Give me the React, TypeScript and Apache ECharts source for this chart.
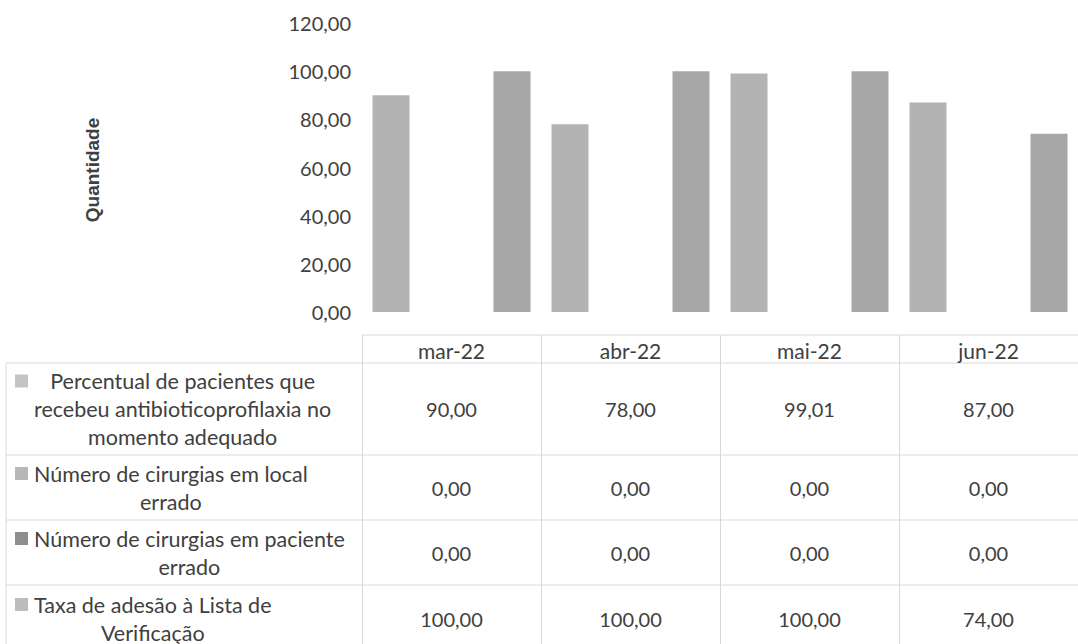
import React, { useEffect, useRef } from "react";
import * as echarts from "echarts";

const categories = ["mar-22", "abr-22", "mai-22", "jun-22"];
const seriesNames = [
  "Percentual de pacientes que\nrecebeu antibioticoprofilaxia no\nmomento adequado",
  "Número de cirurgias em local\nerrado",
  "Número de cirurgias em paciente\nerrado",
  "Taxa de adesão à Lista de\nVerificação",
];
const antibioticoprofilaxia = [90, 78, 99.01, 87];
const localErrado = [0, 0, 0, 0];
const pacienteErrado = [0, 0, 0, 0];
const listaVerificacao = [100, 100, 100, 74];
const seriesValues = [antibioticoprofilaxia, localErrado, pacienteErrado, listaVerificacao];
const seriesColors = ["#b3b3b3", "#ababab", "#8f8f8f", "#a7a7a7"];
const keyColors = ["#c4c4c4", "#b8b8b8", "#8e8e8e", "#bcbcbc"];
const yMin = 0;
const yMax = 120;
const yStep = 20;
const axisTitle = "Quantidade";

const FONT = "Lato";
const TEXT = "#404040";
const LINE = "#d8d8d8";
const LABEL_SIZE = 21.5;
const HEADER_SIZE = 21;
const VALUE_SIZE = 20;

const fmt = (v: number) => v.toFixed(2).replace(".", ",");

export default function App() {
  const ref = useRef<HTMLDivElement>(null);
  useEffect(() => {
    if (!ref.current) return;
    const chart = echarts.init(ref.current, null, { renderer: "svg" });
    chart.setOption({
      animation: false,
      backgroundColor: "#ffffff",
      grid: { left: 362, right: -12, top: 23, bottom: 332, containLabel: false },
      xAxis: {
        type: "category",
        data: categories,
        axisLine: { show: false },
        axisTick: { show: false },
        axisLabel: { show: false },
        splitLine: { show: false },
      },
      yAxis: {
        type: "value",
        min: yMin,
        max: yMax,
        interval: yStep,
        axisLine: { show: false },
        axisTick: { show: false },
        splitLine: { show: false },
        axisLabel: {
          margin: 11,
          formatter: (v: number) => fmt(v),
          fontFamily: FONT,
          fontSize: VALUE_SIZE,
          color: TEXT,
        },
      },
      series: seriesValues.map((vals, i) => ({
        type: "bar",
        name: seriesNames[i],
        data: vals,
        barWidth: 37,
        barGap: "9%",
        itemStyle: { color: seriesColors[i] },
      })),
    });

    const centers = categories.map((c) => chart.convertToPixel({ xAxisIndex: 0 }, c) as number);
    const band = centers[1] - centers[0];
    const ctx = document.createElement("canvas").getContext("2d")!;
    ctx.font = `${LABEL_SIZE}px ${FONT}`;

    const headerTop = 335;
    const rowTops = [363, 455, 520, 585];
    const rowBottoms = [455, 520, 585, 652];
    const lineH = 28;
    const els: any[] = [];
    const tableLeft = centers[0] - band / 2;
    const tableRight = 1078;

    els.push({ type: "line", shape: { x1: tableLeft, y1: headerTop, x2: tableRight, y2: headerTop }, style: { stroke: LINE, lineWidth: 1 } });
    rowTops.forEach((y) => {
      els.push({ type: "line", shape: { x1: 6, y1: y, x2: tableRight, y2: y }, style: { stroke: LINE, lineWidth: 1 } });
    });
    els.push({ type: "line", shape: { x1: 6, y1: rowTops[0], x2: 6, y2: 644 }, style: { stroke: LINE, lineWidth: 1 } });
    centers.forEach((c) => {
      const x = Math.round(c - band / 2) + 0.5;
      els.push({ type: "line", shape: { x1: x, y1: headerTop, x2: x, y2: 644 }, style: { stroke: LINE, lineWidth: 1 } });
    });

    categories.forEach((c, i) => {
      els.push({
        type: "text",
        x: centers[i],
        y: (headerTop + rowTops[0]) / 2 + 1,
        style: { text: c, fontFamily: FONT, fontSize: HEADER_SIZE, fill: TEXT, align: "center", verticalAlign: "middle" },
      });
    });

    seriesNames.forEach((name, r) => {
      const cy = (rowTops[r] + rowBottoms[r]) / 2;
      const lines = name.split("\n");
      const w = Math.max(...lines.map((l) => ctx.measureText(l).width));
      const startX = 34;
      lines.forEach((l, k) => {
        els.push({
          type: "text",
          x: startX + w / 2,
          y: cy + (k - (lines.length - 1) / 2) * lineH,
          style: { text: l, fontFamily: FONT, fontSize: LABEL_SIZE, fill: TEXT, align: "center", verticalAlign: "middle" },
        });
      });
      const firstY = cy - ((lines.length - 1) / 2) * lineH;
      els.push({ type: "rect", shape: { x: 15, y: firstY - 6.5, width: 13, height: 13 }, style: { fill: keyColors[r] } });
      seriesValues[r].forEach((v, i) => {
        els.push({
          type: "text",
          x: centers[i],
          y: cy,
          style: { text: fmt(v), fontFamily: FONT, fontSize: VALUE_SIZE, fill: TEXT, align: "center", verticalAlign: "middle" },
        });
      });
    });

    els.push({
      type: "text",
      x: 92,
      y: 170,
      rotation: Math.PI / 2,
      style: { text: axisTitle, fontFamily: "Liberation Sans", fontWeight: "bold", fontSize: 19, fill: TEXT, align: "center", verticalAlign: "middle" },
    });

    chart.setOption({ graphic: els });
    return () => chart.dispose();
  }, []);
  return <div ref={ref} style={{ position: "fixed", left: 0, top: 0, width: 1078, height: 644 }} />;
}
